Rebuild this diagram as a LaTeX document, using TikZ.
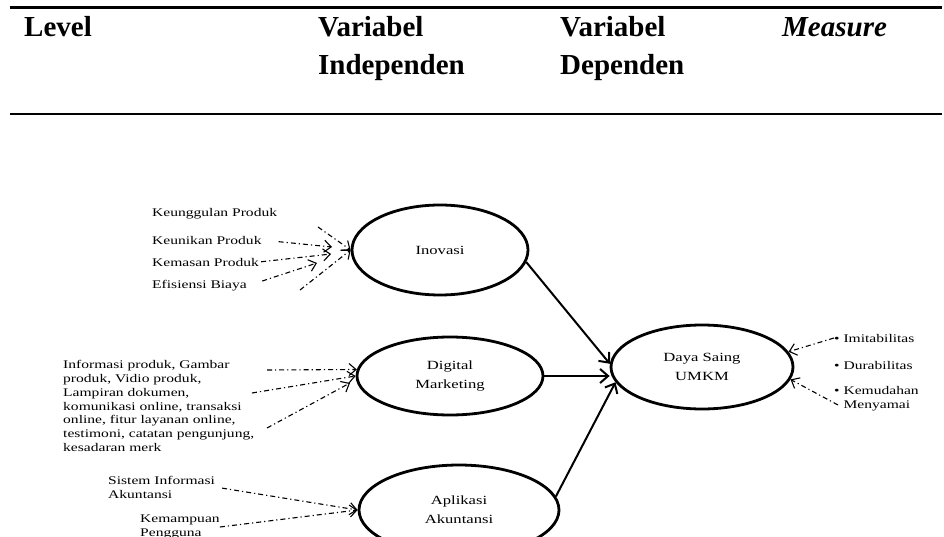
\documentclass[tikz,border=0pt]{standalone}
\usepackage{fontspec}
\setmainfont{Liberation Serif}
\newfontfamily\lebar[FakeStretch=1.33]{Liberation Serif}
\usetikzlibrary{positioning, arrows.meta, shapes.geometric}
\tikzset{panah/.style={line width=2pt, -{Straight Barb[length=8pt,width=14pt,line width=2pt]}}}
\tikzset{putus/.style={line width=1.1pt, dash pattern=on 5pt off 3pt on 1.2pt off 3pt, -{Straight Barb[length=7pt,width=12pt,line width=1.1pt]}}}
\tikzset{elipse/.style={draw, ellipse, line width=2.8pt, align=center, font=\lebar\fontsize{12.5}{19}\selectfont}}
\tikzset{item/.style={align=left, font=\lebar\fontsize{11.7}{13.9}\selectfont}}
\tikzset{judul/.style={font=\fontsize{29}{38}\selectfont\bfseries, align=left}}

\begin{document}
\begin{tikzpicture}[
            x=1pt, y=-1pt,
            every node/.style={inner sep=0pt}
        ]
            \useasboundingbox (0,0) rectangle (944,537);

            % kepala tabel
            \draw[line width=2.5pt] (10,7.5) -- (942,7.5);
            \draw[line width=2.5pt] (10,114) -- (942,114);
            \node[judul, anchor=base west] (level) at (24,37) {Level};
            \node[judul, anchor=base west] (indep) at (318,75) {Variabel\\Independen};
            \node[judul, anchor=base west] (dep) at (560,75) {Variabel\\Dependen};
            \node[judul, anchor=base west] (measure) at (782,37) {\itshape Measure};

            % variabel
            \node[elipse, minimum width=176pt, minimum height=90pt] (inovasi) at (440,250) {Inovasi};
            \node[elipse, minimum width=186pt, minimum height=78pt] (digital) at (450,376) {Digital\\Marketing};
            \node[elipse, minimum width=200pt, minimum height=90pt] (aplikasi) at (459,510) {Aplikasi\\Akuntansi};
            \node[elipse, minimum width=182pt, minimum height=84pt] (daya) at (702,367) {Daya Saing\\UMKM};

            \draw[panah] (inovasi.-8) to (daya.178);
            \draw[panah] (digital.east) to (digital.east -| daya.west);
            \draw[panah] (aplikasi.8) to (daya.190);

            % indikator inovasi
            \node[item, anchor=west] (unggul) at (152,214) {Keunggulan Produk};
            \node[item, anchor=west] (unik) at (152,240) {Keunikan Produk};
            \node[item, anchor=west] (kemasan) at (152,262) {Kemasan Produk};
            \node[item, anchor=west] (biaya) at (152,286) {Efisiensi Biaya};
            \coordinate (a1) at (318,227);
            \coordinate (a2) at (300,290);
            \coordinate (t1) at (332,247);
            \coordinate (t2) at (331,254);
            \coordinate (t3) at (317,263);

            \draw[putus] (a1) to (inovasi.west);
            \draw[putus, shorten <=17pt] (unik.east) to (t1);
            \draw[putus, shorten <=2pt] (kemasan.east) to (t2);
            \draw[putus, shorten <=16pt] (biaya.east) to (t3);
            \draw[putus] (a2) to (inovasi.west);

            % indikator digital marketing
            \node[item, anchor=west] (info) at (63,406) {Informasi produk, Gambar\\produk, Vidio produk,\\Lampiran dokumen,\\komunikasi online, transaksi\\online, fitur layanan online,\\testimoni, catatan pengunjung,\\kesadaran merk};
            \coordinate (b1) at (267,370);
            \coordinate (b2) at (252,393);
            \coordinate (b3) at (267,428);
            \coordinate (t4) at (350,383);

            \draw[putus] (b1) to (digital.176);
            \draw[putus] (b2) to (digital.west);
            \draw[putus] (b3) to (t4);

            % indikator aplikasi akuntansi
            \node[item, anchor=west] (sia) at (108,487) {Sistem Informasi\\Akuntansi};
            \node[item, anchor=west] (mampu) at (140,527) {Kemampuan\\Pengguna};

            \draw[putus, shorten <=7pt] (sia.east) to (aplikasi.west);
            \draw[putus] (mampu.east) to (aplikasi.west);

            % measure
            \node[item, anchor=west] (imit) at (834,338) {\textbullet\ Imitabilitas};
            \node[item, anchor=west] (durab) at (834,365) {\textbullet\ Durabilitas};
            \node[item, anchor=west] (mudah) at (834,399) {\textbullet\ Kemudahan\\\phantom{\textbullet\ }Menyamai};
            \coordinate (m1) at (838,405);

            \draw[putus] (imit.west) to (daya.10);
            \draw[putus] (m1) to (daya.-8);
        \end{tikzpicture}
\end{document}
